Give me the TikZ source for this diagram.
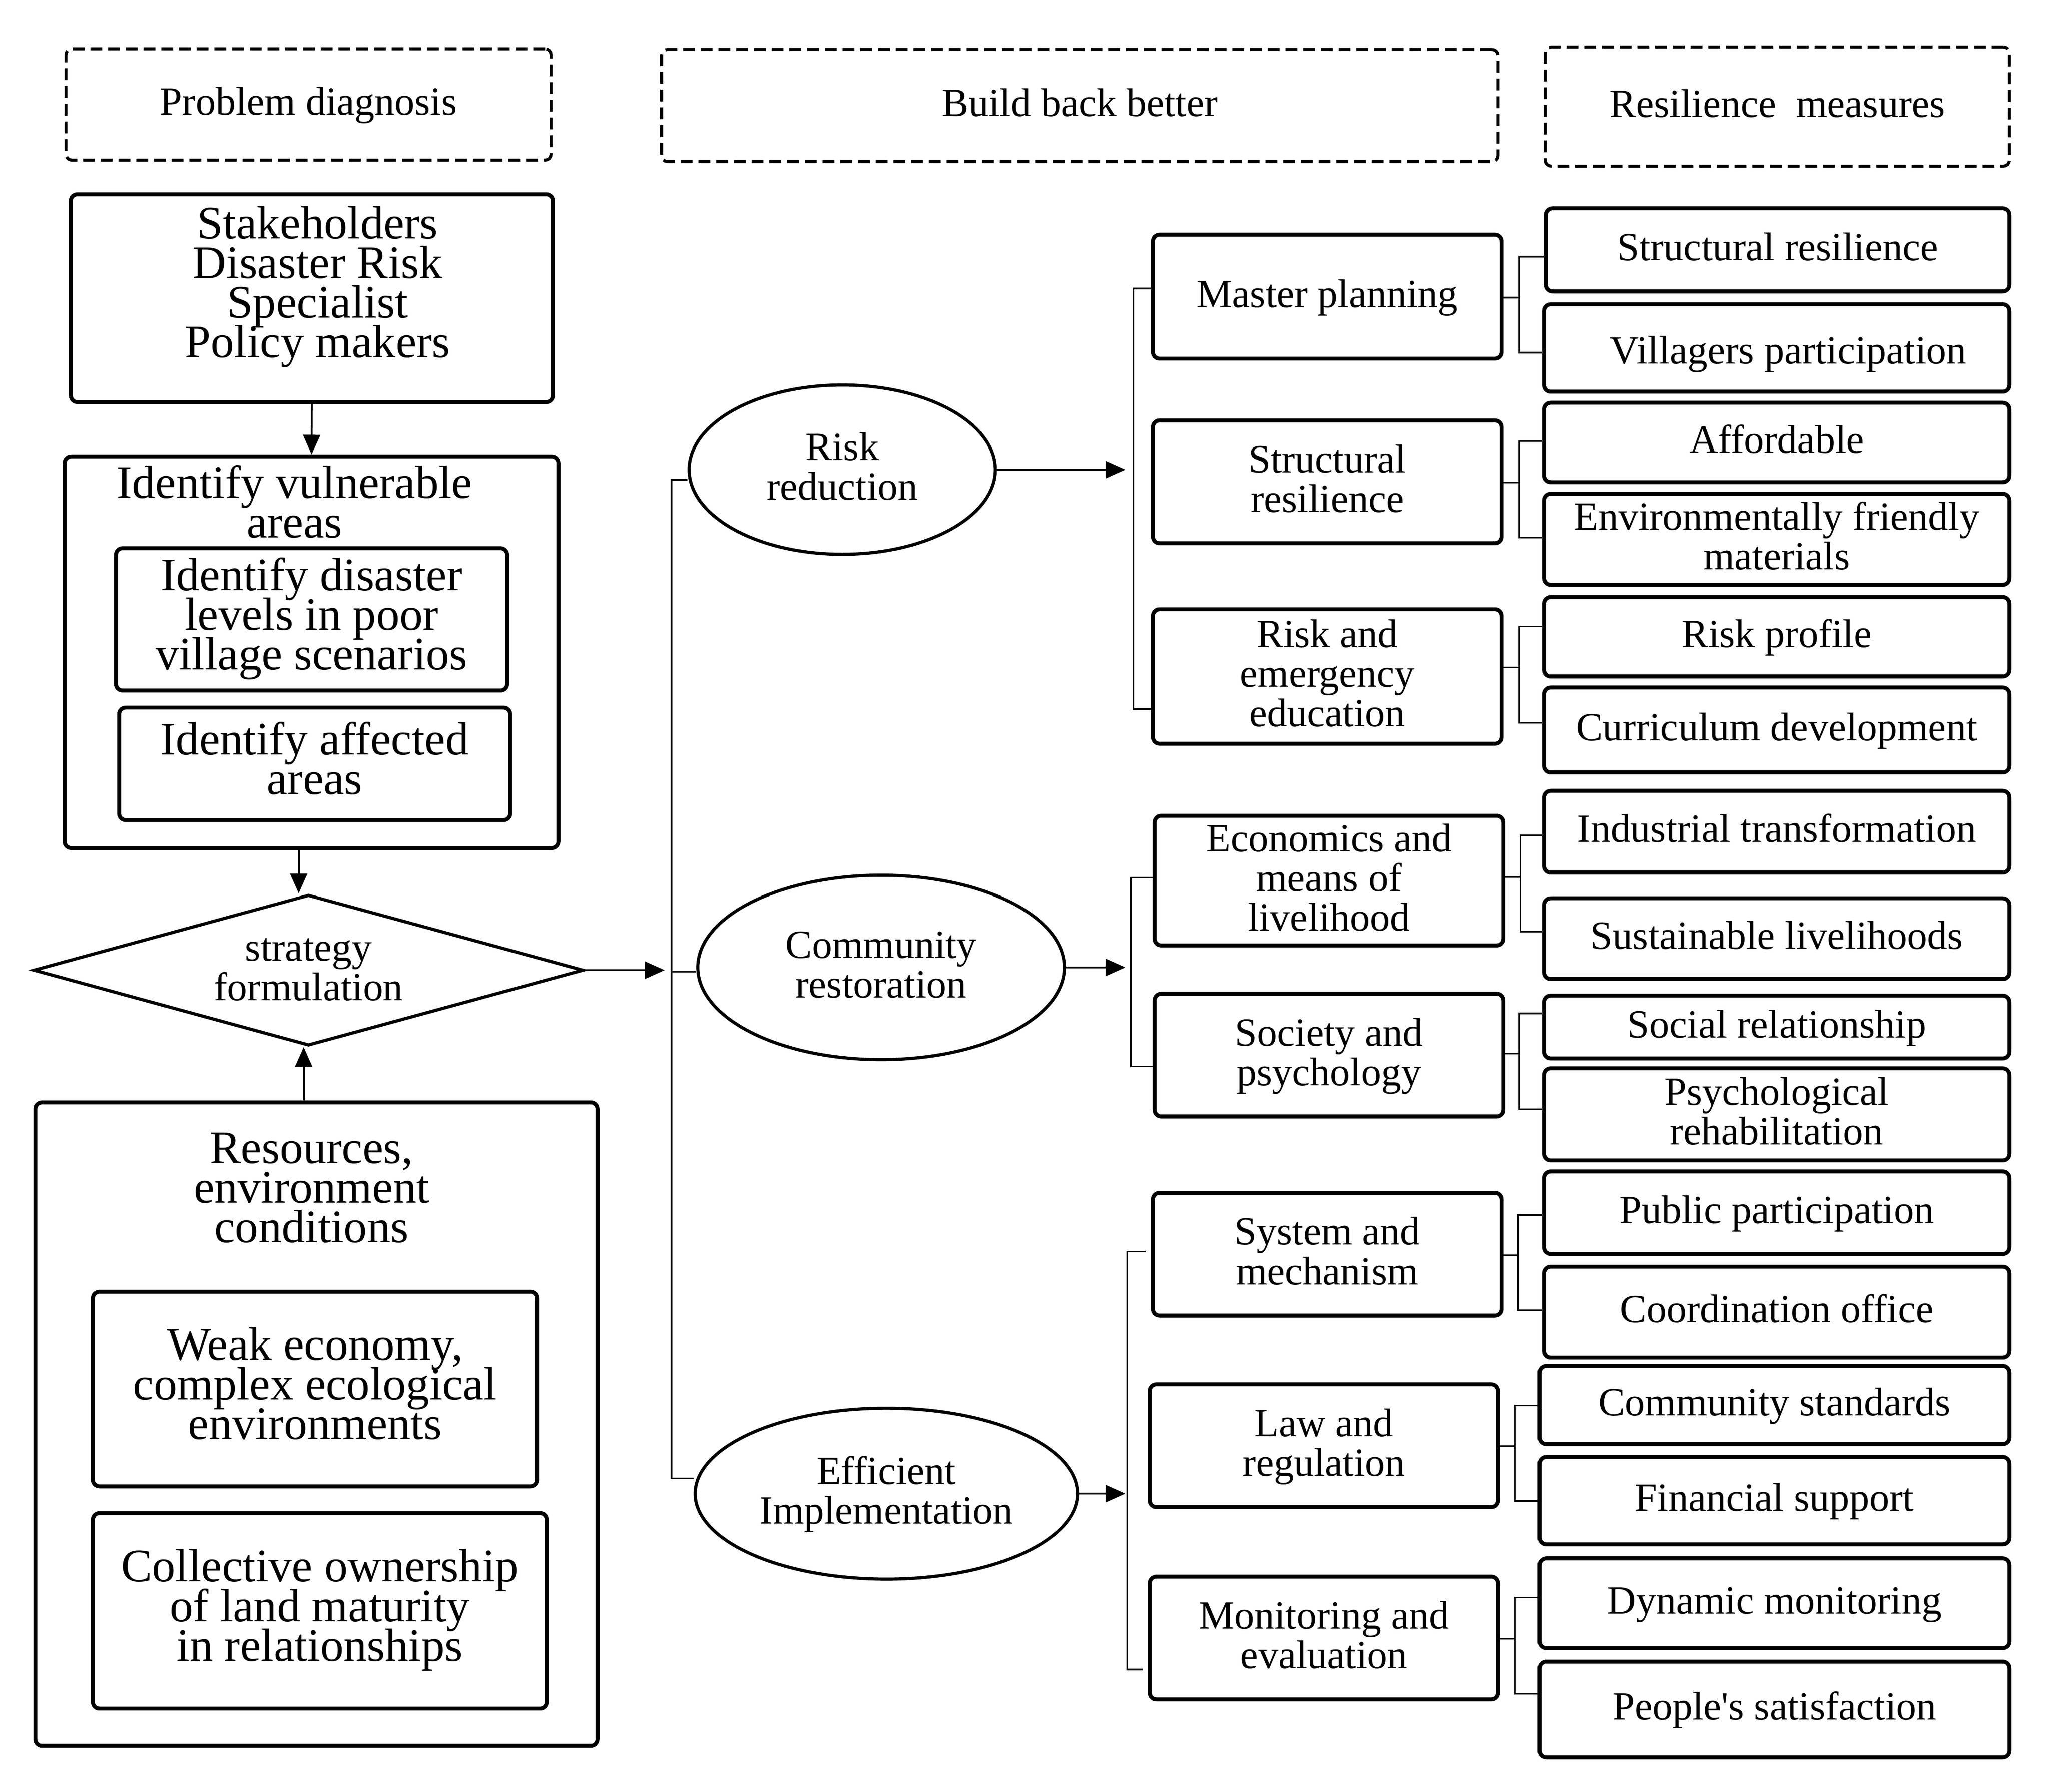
\documentclass[tikz,border=0pt]{standalone}
\usepackage{fontspec}
\setmainfont{Liberation Serif}
\usetikzlibrary{arrows.meta,shapes.geometric}
\newcommand\ms{\rule[-9pt]{0pt}{34pt}}
\newcommand\smf{\fontsize{30.5}{30.2}\selectfont\lineskiplimit=-50pt\relax}
\newcommand\bgf{\fontsize{35.5}{30.2}\selectfont\lineskiplimit=-50pt\relax}
\newcommand\brk[7]{%
  \coordinate (#1m) at (#4,#5);
  \coordinate (#1t) at (#4,#6);
  \coordinate (#1b) at (#4,#7);
  \draw[conn] (#1.east |- #1m) -- (#1m);
  \draw[conn] (#2.west |- #1t) -- (#1t) -- (#1b) -- (#3.west |- #1b);
}
\begin{document}
\begin{tikzpicture}[x=1pt,y=-1pt,
  hdr/.style={draw, line width=2.3pt, dash pattern=on 9pt off 4.5pt, rounded corners=4.5pt, inner sep=0pt, font=\smf, align=center},
  bx/.style={draw, line width=3pt, rounded corners=5pt, inner sep=0pt, font=\smf, align=center},
  bigbx/.style={bx, font=\bgf},
  txt/.style={inner sep=0pt, align=center, font=\smf},
  bigtxt/.style={txt, font=\bgf},
  ell/.style={draw, ellipse, line width=2.4pt, inner sep=0pt, font=\smf, align=center},
  conn/.style={line width=1.2pt},
  arr/.style={line width=1.4pt, -{Triangle[length=15pt,width=13pt]}},
  mid/.style={bx, minimum width=265.8pt},
  rgt/.style={bx, minimum width=354.7pt},
  rgtb/.style={bx, minimum width=358pt}
]
\fill[white] (0,0) rectangle (1562,1365);
\useasboundingbox (0,0) rectangle (1562,1365);

% headers
\node[hdr, minimum width=369.6pt, minimum height=84.8pt] (h1) at (235.1,79.6) {\ms Problem diagnosis};
\node[hdr, minimum width=637.4pt, minimum height=85.4pt] (h2) at (822.8,80.4) {\ms Build back better};
\node[hdr, minimum width=353.8pt, minimum height=90.8pt] (h3) at (1354.2,81.2) {\ms Resilience\ \ measures};

% left column
\node[bx, minimum width=367.3pt, minimum height=158.3pt] (stake) at (237.65,227.15) {};
\node[bigtxt] (staket) at (242,219.15) {\ms Stakeholders\\\ms Disaster Risk\\\ms Specialist\\\ms Policy makers};
\node[bx, minimum width=376.2pt, minimum height=298.3pt] (ident) at (237.4,496.85) {};
\node[bigtxt] (identt) at (224.4,386.5) {\ms Identify vulnerable\\\ms areas};
\node[bigbx, minimum width=298pt, minimum height=108.4pt] (id1) at (237.4,471.8) {\ms Identify disaster\\\ms levels in poor\\\ms village scenarios};
\node[bigbx, minimum width=297.9pt, minimum height=85.7pt] (id2) at (239.75,581.85) {\ms Identify affected\\\ms areas};
\node[draw, diamond, aspect=3.65, line width=2.4pt, inner sep=0pt, minimum width=419pt, minimum height=114.9pt, font=\smf, align=center] (strat) at (235.1,739.05) {\ms strategy\\\ms formulation};
\node[bx, minimum width=428.3pt, minimum height=490.2pt] (res) at (241.15,1084.9) {};
\node[bigtxt] (rest) at (237.4,908.3) {\ms Resources,\\\ms environment\\\ms conditions};
\node[bigbx, minimum width=338.4pt, minimum height=148.1pt] (weak) at (240,1058.15) {\ms Weak economy,\\\ms complex ecological\\\ms environments};
\node[bigbx, minimum width=345.8pt, minimum height=149pt] (coll) at (243.7,1227.1) {\ms Collective ownership\\\ms of land maturity\\\ms in relationships};

% ellipses
\node[ell, minimum width=233.3pt, minimum height=128.9pt] (rr) at (641.75,357.75) {\ms Risk\\\ms reduction};
\node[ell, minimum width=279.3pt, minimum height=140.5pt] (cr) at (671.35,736.95) {\ms Community\\\ms restoration};
\node[ell, minimum width=291.3pt, minimum height=130.3pt] (ei) at (675.35,1137.75) {\ms Efficient\\\ms Implementation};

% middle boxes
\node[mid, minimum height=94.4pt] (mp) at (1011.4,226) {\ms Master planning};
\node[mid, minimum height=93.5pt] (sr) at (1011.4,367.05) {\ms Structural\\\ms resilience};
\node[mid, minimum height=102.4pt] (re) at (1011.4,515.3) {\ms Risk and\\\ms emergency\\\ms education};
\node[mid, minimum height=98.8pt] (ec) at (1012.7,670.8) {\ms Economics and\\\ms means of\\\ms livelihood};
\node[mid, minimum height=93.5pt] (so) at (1012.7,803.75) {\ms Society and\\\ms psychology};
\node[mid, minimum height=93.6pt] (sm) at (1011.4,955.5) {\ms System and\\\ms mechanism};
\node[mid, minimum width=265.4pt, minimum height=93.6pt] (lr) at (1008.8,1101.2) {\ms Law and\\\ms regulation};
\node[mid, minimum width=265.4pt, minimum height=93.6pt] (me) at (1008.8,1247.8) {\ms Monitoring and\\\ms evaluation};

% right boxes
\node[rgt, minimum width=353.3pt, minimum height=63.3pt] (r1) at (1354.45,190.35) {\ms Structural resilience};
\node[rgt, minimum height=66.6pt] (r2) at (1353.75,265.1) {};
\node[txt] (r2t) at (1362.6,269) {\ms Villagers participation};
\node[rgt, minimum height=60.5pt] (r3) at (1353.75,337.05) {\ms Affordable};
\node[rgt, minimum height=69.4pt] (r4) at (1353.75,410.8) {\ms Environmentally friendly\\\ms materials};
\node[rgt, minimum height=60.5pt] (r5) at (1353.75,485.05) {\ms Risk profile};
\node[rgt, minimum height=64.7pt] (r6) at (1353.75,556.05) {\ms Curriculum development};
\node[rgt, minimum height=62.3pt] (r7) at (1353.75,633.55) {\ms Industrial transformation};
\node[rgt, minimum height=61.5pt] (r8) at (1353.75,715.05) {\ms Sustainable livelihoods};
\node[rgt, minimum height=47.9pt] (r9) at (1353.75,782.35) {\ms Social relationship};
\node[rgt, minimum height=70.2pt] (r10) at (1353.75,848.9) {\ms Psychological\\\ms rehabilitation};
\node[rgt, minimum height=62.9pt] (r11) at (1353.75,923.85) {\ms Public participation};
\node[rgt, minimum height=69pt] (r12) at (1353.75,999.5) {\ms Coordination office};
\node[rgtb, minimum height=59.6pt] (r13) at (1352.1,1070.2) {\ms Community standards};
\node[rgtb, minimum height=66.6pt] (r14) at (1352.1,1143.1) {\ms Financial support};
\node[rgtb, minimum height=68.4pt] (r15) at (1352.1,1221.3) {\ms Dynamic monitoring};
\node[rgtb, minimum height=73pt] (r16) at (1352.1,1302.3) {\ms People\textquotesingle s satisfaction};

% brackets
\brk{mp}{r1}{r2}{1157.7}{226.7}{195.5}{268.6}
\brk{sr}{r3}{r4}{1157.7}{367.7}{336.1}{409.6}
\brk{re}{r5}{r6}{1157.7}{508.3}{477.1}{550.7}
\brk{ec}{r7}{r8}{1158.7}{668}{636.3}{709.5}
\brk{so}{r9}{r10}{1157.7}{802.6}{771.9}{845}
\brk{sm}{r11}{r12}{1156.8}{956.2}{925.5}{998.1}
\brk{lr}{r13}{r14}{1154.5}{1101.4}{1070.7}{1143.3}
\brk{me}{r15}{r16}{1154.5}{1248.5}{1216.9}{1290.4}

% trunks
\coordinate (t1a) at (511.6,365.4);
\coordinate (t1c) at (511.6,740.2);
\coordinate (t1b) at (511.6,1126.1);
\draw[conn] (rr.west |- t1a) -- (t1a) -- (t1b) -- (ei.west |- t1b);
\draw[conn] (t1c) -- (cr.west |- t1c);
\coordinate (t2a) at (863.6,219.7);
\coordinate (t2b) at (863.6,540);
\draw[conn] (mp.west |- t2a) -- (t2a) -- (t2b) -- (re.west |- t2b);
\coordinate (t3a) at (861.7,668.5);
\coordinate (t3b) at (861.7,812.4);
\draw[conn] (ec.west |- t3a) -- (t3a) -- (t3b) -- (so.west |- t3b);
\coordinate (t4a) at (858.9,953.4);
\coordinate (t4b) at (858.9,1271.8);
\coordinate (t4c) at ([xshift=-4pt]sm.west);
\coordinate (t4d) at ([xshift=-4pt]me.west);
\draw[conn] (t4c |- t4a) -- (t4a) -- (t4b) -- (t4d |- t4b);

% arrows
\coordinate (arrx) at (857.5,0);
\coordinate (arrx1) at (506.5,0);
\draw[arr] (rr.east) -- (rr.east -| arrx);
\draw[arr] (cr.east) -- (cr.east -| arrx);
\draw[arr] (ei.east) -- (ei.east -| arrx);
\draw[arr] (strat.east) -- (strat.east -| arrx1);
\draw[arr] (stake.south) -- (ident.north);
\coordinate (a1) at ([xshift=-9.8pt]ident.south);
\draw[arr] (a1) -- (a1 |- strat.north);
\coordinate (a2) at ([xshift=-9.75pt]res.north);
\draw[arr] (a2) -- (a2 |- strat.south);
\end{tikzpicture}
\end{document}
